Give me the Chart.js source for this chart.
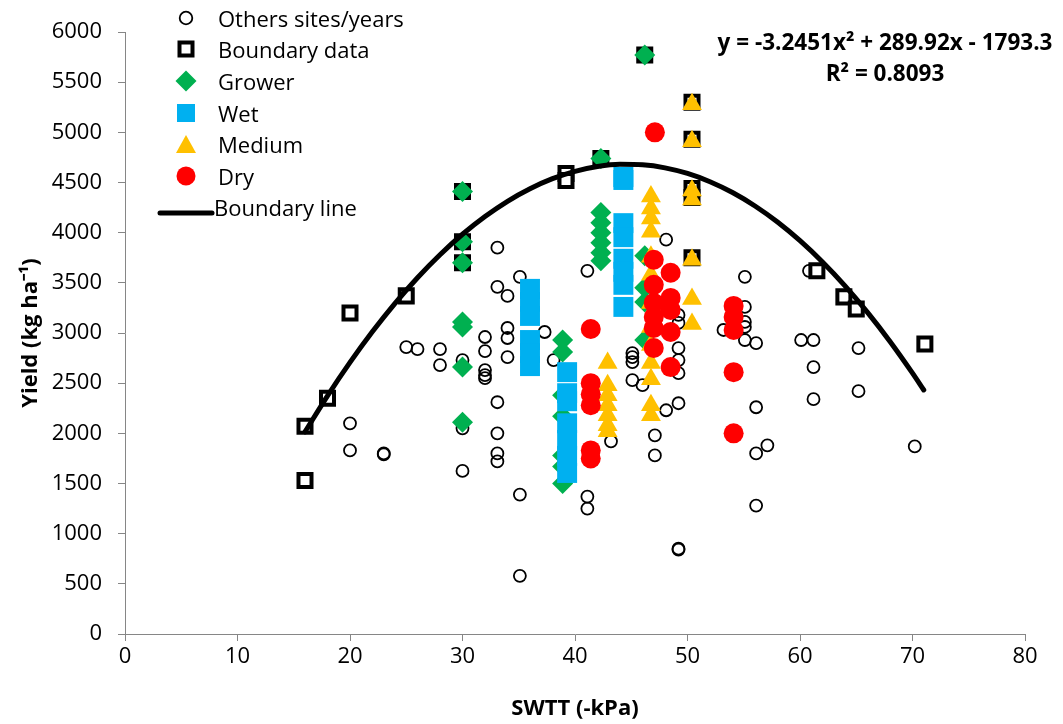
<!DOCTYPE html>
<html>
<head>
<meta charset="utf-8">
<script src="https://cdn.jsdelivr.net/npm/chart.js@4.4.0/dist/chart.umd.min.js"></script>
<style>
html,body{margin:0;padding:0;background:#fff;}
#wrap{position:relative;width:1063px;height:724px;overflow:hidden;}
#c{position:absolute;left:0;top:0;}
.lg{position:absolute;font-family:'Open Sans',sans-serif;font-size:22px;color:#000;line-height:30px;white-space:nowrap;}
.ic{position:absolute;}
#eq{position:absolute;left:685px;width:400px;top:26px;text-align:center;font-family:'Open Sans',sans-serif;font-weight:bold;font-size:22.5px;line-height:31px;color:#000;}
</style>
</head>
<body>
<div id="wrap">
<canvas id="c" width="1063" height="724"></canvas>
<div id="legend"></div>
<div id="eq">y = -3.2451x² + 289.92x - 1793.3<br>R² = 0.8093</div>
</div>
<script>
// ---------- data ----------
const legendLabels = ['Others sites/years','Boundary data','Grower','Wet','Medium','Dry','Boundary line'];
const xTicks = [0,10,20,30,40,50,60,70,80];
const yTicks = [0,500,1000,1500,2000,2500,3000,3500,4000,4500,5000,5500,6000];

const othersPts = [[20,2100],[20,1830],[23,1800],[23,1790],[25,2860],[26,2840],[28,2840],[28,2680],
 [30,2730],[30,2050],[30,1625],[32,2960],[32,2820],[32,2630],[32,2580],[32,2550],[33.1,3850],[33.1,3460],
 [34,3370],[34,3050],[34,2950],[34,2760],[33.1,2310],[33.1,2000],[33.1,1800],[33.1,1720],[35.1,3560],
 [35.1,1390],[35.1,580],[37.3,3010],[38.1,2730],[41.1,3620],[41.1,1370],[41.1,1250],[43.2,1920],
 [45.1,2800],[45.1,2760],[45.1,2710],[45.1,2530],[46,2480],[47.1,1980],[47.1,1780],[48.1,3930],[48.1,2230],
 [49.2,3180],[49.2,3100],[49.2,2850],[49.2,2730],[49.2,2600],[49.2,2300],[49.2,840],[49.2,850],[53.2,3030],
 [55.1,3560],[55.1,3260],[55.1,3110],[55.1,3060],[55.1,2930],[56.1,2900],[56.1,2260],[56.1,1800],[56.1,1280],
 [57.1,1880],[60.1,2930],[61.2,2930],[61.2,2660],[61.2,2340],[60.8,3620],[65.2,2850],[65.2,2420],[70.2,1870]];

const boundaryPts = [[16,2070],[16,1530],[18,2350],[20,3200],[25,3370],[30,4410],[30,3910],[30,3700],
 [39.2,4590],[39.2,4520],[42.3,4740],[46.2,5770],[50.4,5300],[50.4,4930],[50.4,4440],[50.4,4350],
 [50.4,3750],[61.5,3620],[63.9,3360],[65,3240],[71.1,2890]];

const growerPts = [[30,4410],[30,3910],[30,3700],[30,3110],[30,3060],[30,2660],[30,2110],
 [38.9,2930],[38.9,2810],[38.9,2380],[38.9,2170],[38.9,1780],[38.9,1670],[38.9,1500],
 [42.3,4740],[42.3,4200],[42.3,4100],[42.3,4000],[42.3,3900],[42.3,3800],[42.3,3720],
 [46.2,5770],[46.2,3770],[46.2,3450],[46.2,3310],[46.2,2930]];

const wetPts = [[36,3440],[36,3310],[36,3170],[36,2930],[36,2800],[36,2670],
 [39.3,2610],[39.3,2400],[39.3,2320],[39.3,2100],[39.3,1935],[39.3,1775],[39.3,1605],
 [44.3,4555],[44.3,4525],[44.3,4095],[44.3,3955],[44.3,3740],[44.3,3610],[44.3,3480],[44.3,3260]];

const mediumPts = [[42.9,2700],[42.9,2480],[42.9,2380],[42.9,2280],[42.9,2180],[42.9,2080],[42.9,2020],
 [46.75,4360],[46.75,4240],[46.75,4140],[46.75,4010],[46.75,3760],[46.75,3580],[46.75,3300],[46.75,3060],
 [46.75,2880],[46.75,2700],[46.75,2540],[46.75,2280],[46.75,2180],
 [50.4,5280],[50.4,4910],[50.4,4420],[50.4,4330],[50.4,3730],[50.4,3340],[50.4,3090]];

const dryPts = [[47.1,5000],[47,3730],[47,3480],[47,3300],[47,3160],[47,3050],[47,2850],
 [48.5,3600],[48.5,3350],[48.5,3230],[48.5,3010],[48.5,2660],
 [41.4,3040],[41.4,2500],[41.4,2390],[41.4,2280],[41.4,1830],[41.4,1750],
 [54.1,3270],[54.1,3160],[54.1,3030],[54.1,2610],[54.1,2000]];

const curveX = [16,18,20,22,24,26,28,30,32,34,36,38,40,42,44,46,48,50,52,54,56,58,60,62,64,66,68,70,71];
const curveY = [2015,2374,2707,3014,3296,3551,3780,3984,4161,4313,4438,4538,4611,4659,4681,4676,4646,4590,4508,4400,4266,4106,3920,3708,3470,3206,2916,2600,2432];

// ---------- chart ----------
const toXY = a => a.map(p => ({x:p[0], y:p[1]}));
const FONT = "'Open Sans', sans-serif";
const AX = '#868686';
Chart.defaults.font.family = FONT;
Chart.defaults.color = '#000';

new Chart(document.getElementById('c'), {
  type: 'scatter',
  data: {
    datasets: [
      { label: legendLabels[6], data: curveX.map((x,i)=>({x, y: curveY[i]})), showLine: true,
        borderColor: '#000', borderWidth: 5, pointRadius: 0, cubicInterpolationMode: 'monotone',
        borderCapStyle: 'round', fill: false, order: 0 },
      { label: legendLabels[5], data: toXY(dryPts), pointStyle: 'circle', pointRadius: 10,
        backgroundColor: '#FF0000', borderColor: '#FF0000', borderWidth: 0, order: 1 },
      { label: legendLabels[4], data: toXY(mediumPts), pointStyle: 'triangle', pointRadius: 11.5,
        backgroundColor: '#FFC000', borderColor: '#FFC000', borderWidth: 0, order: 2 },
      { label: legendLabels[3], data: toXY(wetPts), pointStyle: 'rect', pointRadius: 14.1,
        backgroundColor: '#00B0F0', borderColor: '#00B0F0', borderWidth: 0, order: 3 },
      { label: legendLabels[2], data: toXY(growerPts), pointStyle: 'rectRot', pointRadius: 10.5,
        backgroundColor: '#00B050', borderColor: '#00B050', borderWidth: 0, order: 4 },
      { label: legendLabels[1], data: toXY(boundaryPts), pointStyle: 'rect', pointRadius: 9.2,
        backgroundColor: '#fff', borderColor: '#000', borderWidth: 4, order: 5 },
      { label: legendLabels[0], data: toXY(othersPts), pointStyle: 'circle', pointRadius: 6,
        backgroundColor: 'rgba(0,0,0,0)', borderColor: '#000', borderWidth: 1.8, order: 6 }
    ]
  },
  options: {
    responsive: false, animation: false, devicePixelRatio: 1,
    layout: { padding: { top: 32, right: 38, left: 0, bottom: 0 } },
    plugins: { legend: { display: false }, tooltip: { enabled: false } },
    elements: { point: { hoverRadius: 0 } },
    scales: {
      x: {
        type: 'linear', min: xTicks[0], max: xTicks[xTicks.length-1],
        afterBuildTicks: s => { s.ticks = xTicks.map(v => ({value: v})); },
        afterFit: s => { s.height = 90; },
        ticks: { font: { size: 22 }, color: '#000', padding: 3, maxRotation: 0, callback: v => String(v) },
        grid: { drawOnChartArea: false, drawTicks: true, tickLength: 7, color: AX },
        border: { color: AX, width: 1 },
        title: { display: true, text: 'SWTT (-kPa)', font: { size: 22, weight: 'bold' }, color: '#000', padding: { top: 0, bottom: 2 } }
      },
      y: {
        type: 'linear', min: yTicks[0], max: yTicks[yTicks.length-1],
        afterBuildTicks: s => { s.ticks = yTicks.map(v => ({value: v})); },
        afterFit: s => { s.width = 125; },
        ticks: { font: { size: 22 }, color: '#000', padding: 16, autoSkip: false, callback: v => String(v) },
        grid: { drawOnChartArea: false, drawTicks: true, tickLength: 7, color: AX },
        border: { color: AX, width: 1 },
        title: { display: true, text: 'Yield (kg ha\u207B\u00B9)', font: { size: 22, weight: 'bold' }, color: '#000', padding: { top: 18, bottom: 0 } }
      }
    }
  }
});

// ---------- legend (HTML) ----------
const icons = [
  '<svg width="18" height="18"><circle cx="9" cy="9" r="6.3" fill="none" stroke="#000" stroke-width="1.8"/></svg>',
  '<svg width="20" height="20"><rect x="3.5" y="3.5" width="13" height="13" fill="#fff" stroke="#000" stroke-width="4"/></svg>',
  '<svg width="22" height="22"><polygon points="11,0.5 21.5,11 11,21.5 0.5,11" fill="#00B050"/></svg>',
  '<svg width="20" height="20"><rect x="1" y="1" width="18" height="18" fill="#00B0F0"/></svg>',
  '<svg width="22" height="20"><polygon points="11,1 21,19 1,19" fill="#FFC000"/></svg>',
  '<svg width="20" height="20"><circle cx="10" cy="10" r="9.5" fill="#FF0000"/></svg>',
  '<svg width="58" height="8"><line x1="3" y1="4" x2="55" y2="4" stroke="#000" stroke-width="5" stroke-linecap="round"/></svg>'
];
const iconSize = [[18,18],[20,20],[22,22],[20,20],[22,20],[20,20],[58,8]];
const rowY = [18,49,81,113,144,176,207];
const lg = document.getElementById('legend');
legendLabels.forEach((t,i) => {
  const [w,h] = iconSize[i];
  const ic = document.createElement('div');
  ic.className = 'ic';
  ic.style.left = (186 - w/2) + 'px';
  ic.style.top = (rowY[i] - h/2) + 'px';
  ic.style.width = w + 'px'; ic.style.height = h + 'px';
  ic.innerHTML = icons[i];
  lg.appendChild(ic);
  const tx = document.createElement('div');
  tx.className = 'lg';
  tx.style.left = (i === 6 ? 214 : 218) + 'px';
  tx.style.top = (rowY[i] - 15) + 'px';
  tx.textContent = t;
  lg.appendChild(tx);
});
</script>
</body>
</html>
